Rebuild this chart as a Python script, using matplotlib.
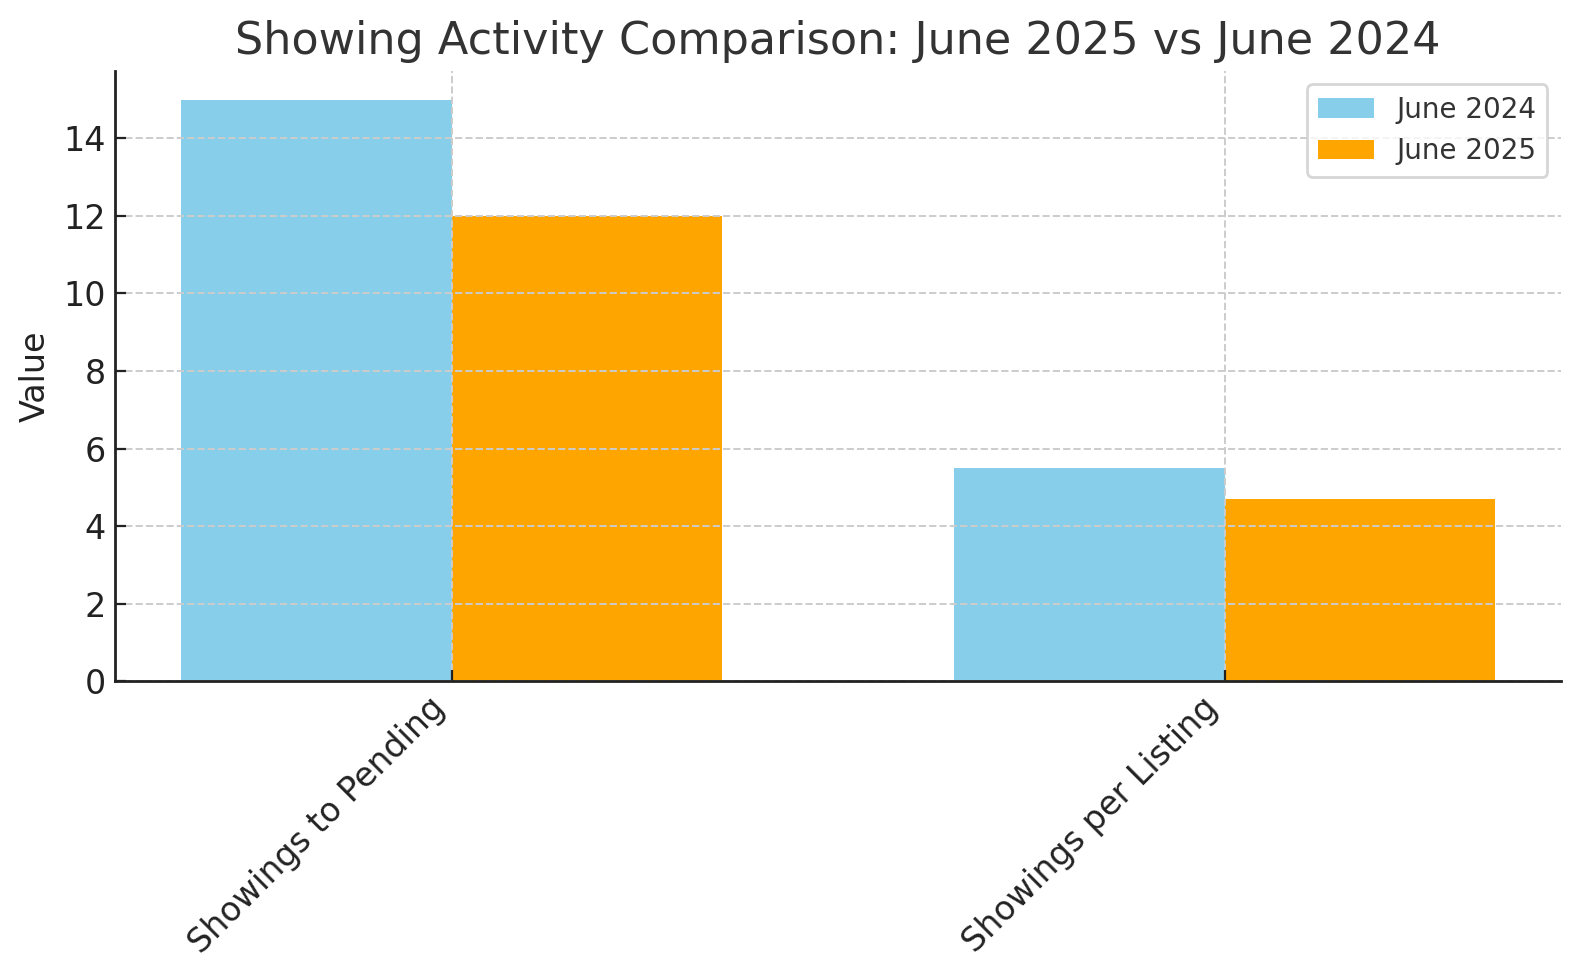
import numpy as np
import matplotlib.pyplot as plt

categories = ["Showings to Pending", "Showings per Listing"]
june_2024 = [15, 5.5]
june_2025 = [12, 4.7]
series_names = ["June 2024", "June 2025"]

fig, ax = plt.subplots(figsize=(7.9, 4.9), dpi=200)

x = np.arange(len(categories))
w = 0.35
ax.bar(x - w / 2, june_2024, w, color="skyblue", label=series_names[0])
ax.bar(x + w / 2, june_2025, w, color="orange", label=series_names[1])

ax.set_axisbelow(False)
ax.grid(True, linestyle="--", color="#cccccc", linewidth=0.7)

ax.set_xticks(x)
ax.set_xticklabels(categories, rotation=45, ha="right", fontsize=12, color="#222222")
ax.tick_params(axis="y", labelsize=12, labelcolor="#222222")
ax.tick_params(direction="in", length=4, color="#222222")
ax.set_ylabel("Value", fontsize=12, color="#222222")
ax.set_title("Showing Activity Comparison: June 2025 vs June 2024", fontsize=16, color="#333333")

for s in ["top", "right"]:
    ax.spines[s].set_visible(False)
for s in ["left", "bottom"]:
    ax.spines[s].set_color("#222222")
    ax.spines[s].set_linewidth(1.0)
    ax.spines[s].set_zorder(3)

leg = ax.legend(fontsize=10, loc="upper right")
for t in leg.get_texts():
    t.set_color("#333333")

fig.subplots_adjust(left=0.073, right=0.988, top=0.928, bottom=0.305)
fig.savefig("out.png")
